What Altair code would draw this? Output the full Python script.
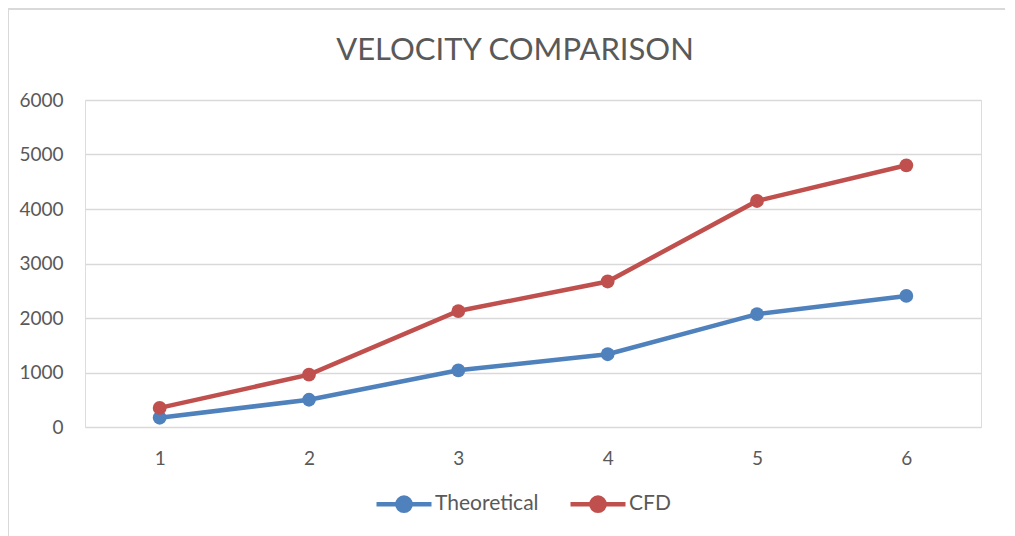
import altair as alt
import pandas as pd

categories = [1, 2, 3, 4, 5, 6]
theoretical = [170, 500, 1040, 1335, 2070, 2405]
cfd = [350, 960, 2128, 2670, 4147, 4802]
series_names = ["Theoretical", "CFD"]
colors = ["#4F81BD", "#C0504D"]
title_text = "VELOCITY COMPARISON"

rows = []
for c, t, f in zip(categories, theoretical, cfd):
    rows.append({"x": str(c), "value": t, "series": "Theoretical"})
    rows.append({"x": str(c), "value": f, "series": "CFD"})
df = pd.DataFrame(rows)

W, H = 896, 327
FONT = "Lato"
GREY = "#595959"

color = alt.Color(
    "series:N",
    scale=alt.Scale(domain=series_names, range=colors),
    legend=alt.Legend(
        title=None,
        orient="none",
        direction="horizontal",
        legendX=289,
        legendY=374,
        symbolType="M-1,0H1M0.24,0A0.24,0.24 0 1,1 -0.24,0A0.24,0.24 0 1,1 0.24,0Z",
        symbolSize=3025,
        symbolStrokeWidth=4.5,
        labelFont=FONT,
        labelFontSize=21,
        labelColor=GREY,
        columnPadding=22,
        labelOffset=1,
    ),
)

x = alt.X(
    "x:O",
    scale=alt.Scale(type="point", padding=0.5),
    sort=[str(c) for c in categories],
    axis=alt.Axis(
        title=None, labelAngle=0, domain=False, ticks=False, grid=False,
        labelFont=FONT, labelFontSize=19, labelColor=GREY, labelPadding=22,
    ),
)
y = alt.Y(
    "value:Q",
    scale=alt.Scale(domain=[0, 6000], nice=False),
    axis=alt.Axis(
        title=None, values=[0, 1000, 2000, 3000, 4000, 5000, 6000], format="d",
        domain=False, ticks=False, grid=True, gridColor="#D9D9D9", gridWidth=1.6,
        labelFont=FONT, labelFontSize=19, labelColor=GREY, labelPadding=22,
    ),
)

base = alt.Chart(df)
lines = base.mark_line(strokeWidth=4.5).encode(x=x, y=y, color=color)
points = base.mark_circle(size=190, opacity=1).encode(x=x, y=y, color=color)

one = pd.DataFrame({"a": [0]})
border_left = alt.Chart(one).mark_rule(color="#D9D9D9", strokeWidth=2).encode(
    x=alt.value(-77), y=alt.value(-92), y2=alt.value(H + 200)
)
border_top = alt.Chart(one).mark_rule(color="#D9D9D9", strokeWidth=2).encode(
    x=alt.value(-77), x2=alt.value(W + 200), y=alt.value(-91)
)
title = alt.Chart(one).mark_text(
    text=title_text, font=FONT, fontSize=31, color=GREY, align="center", baseline="middle"
).encode(x=alt.value(430), y=alt.value(-49))

chart = alt.layer(border_left, border_top, title, lines, points).properties(
    width=W,
    height=H,
    autosize=alt.AutoSizeParams(type="none"),
    padding={"left": 77, "top": 92, "right": 24, "bottom": 130},
).configure_view(stroke=None).configure(background="white")

chart.save("out.html", embed_options={"renderer": "svg", "actions": False})
